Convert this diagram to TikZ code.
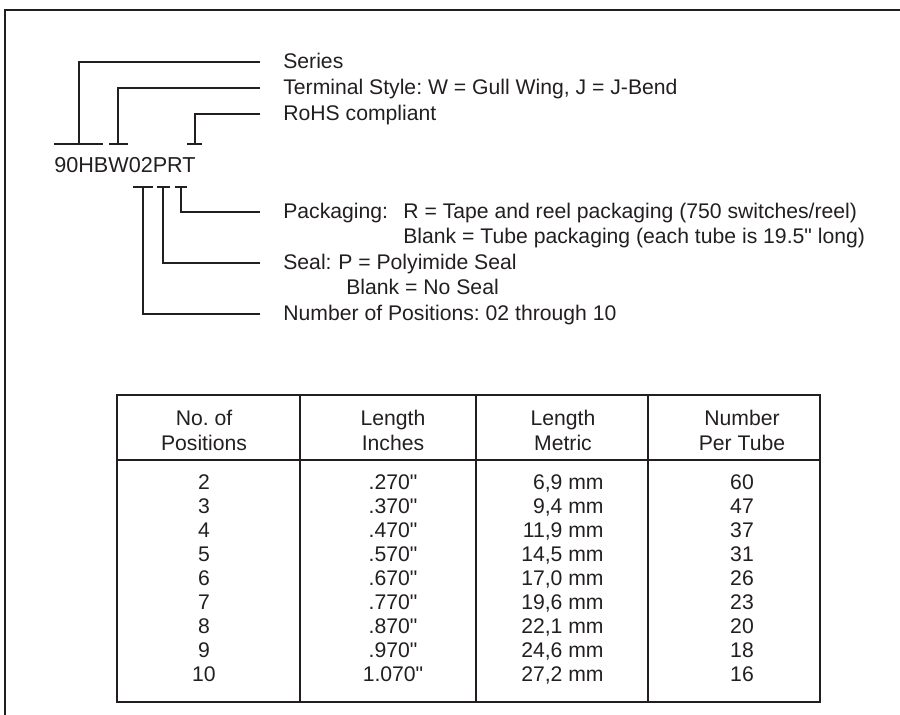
\documentclass[tikz,border=0pt]{standalone}
\usepackage{fontspec}
\setmainfont{Liberation Sans}
\newfontfamily\plainsans{Liberation Sans}
\usetikzlibrary{positioning,calc}
\definecolor{ink}{HTML}{231F20}
\frenchspacing
\newcommand{\inchmark}{{\plainsans\symbol{34}}}

\begin{document}
\begin{tikzpicture}[
    x=0.02cm, y=-0.02cm,
    frame/.style={draw=ink, line width=1.3pt},
    leader/.style={draw=ink, line width=0.7pt},
    grid/.style={draw=ink, line width=1.1pt},
    lbl/.style={
        anchor=west, inner sep=0pt, text=ink,
        font=\fontsize{12.05}{14}\selectfont,
        text height=0.72em, text depth=0pt
    },
    cell/.style={
        anchor=base, inner sep=0pt, text=ink,
        font=\fontsize{12.05}{14}\selectfont
    },
    head/.style={
        align=center, inner sep=0pt, text=ink,
        font=\fontsize{12.05}{14.2}\selectfont
    }
]
\useasboundingbox (0,0) rectangle (900,715);

% === Frame ===
\draw[frame] (5,715) -- (5,10) -- (900,10);

% === Part number ===
\node[anchor=base west, inner sep=0pt, text=ink,
      font=\fontsize{12.3}{14}\selectfont] (pn) at (54,173) {90HBW02PRT};

% tick points above and below the part number
\coordinate (tSer)  at (79,144);
\coordinate (tTerm) at (118,144);
\coordinate (tRohs) at (195,144);
\coordinate (tPos)  at (143,187);
\coordinate (tSeal) at (163,187);
\coordinate (tPack) at (181,187);

\draw[leader] ($(tSer)+(-25,0)$)  -- ($(tSer)+(24,0)$);
\draw[leader] ($(tTerm)+(-9,0)$)  -- ($(tTerm)+(10,0)$);
\draw[leader] ($(tRohs)+(-8,0)$)  -- ($(tRohs)+(7,0)$);
\draw[leader] ($(tPos)+(-10,0)$)  -- ($(tPos)+(10,0)$);
\draw[leader] ($(tSeal)+(-6,0)$)  -- ($(tSeal)+(7,0)$);
\draw[leader] ($(tPack)+(-6,0)$)  -- ($(tPack)+(6,0)$);

% === Upper labels ===
\node[lbl] (series) at (283,62)  {Series};
\node[lbl] (term)   at (283,88)  {Terminal Style: W = Gull Wing, J = J-Bend};
\node[lbl] (rohs)   at (283,114) {RoHS compliant};

\draw[leader] (tSer)  |- ([xshift=-13pt]series.west);
\draw[leader] (tTerm) |- ([xshift=-13pt]term.west);
\draw[leader] (tRohs) |- ([xshift=-13pt]rohs.west);

% === Lower labels ===
\node[lbl] (pack)  at (283,212) {Packaging:};
\node[lbl] (packR) at (403,212) {R = Tape and reel packaging (750 switches/reel)};
\node[lbl] (packB) at (403,237) {Blank = Tube packaging (each tube is 19.5\inchmark{} long)};
\node[lbl] (seal)  at (283,263) {Seal:};
\node[lbl] (sealP) at (338,263) {P = Polyimide Seal};
\node[lbl] (sealB) at (346,288) {Blank = No Seal};
\node[lbl] (npos)  at (283,314) {Number of Positions: 02 through 10};

\draw[leader] (tPack) |- ([xshift=-13pt]pack.west);
\draw[leader] (tSeal) |- ([xshift=-13pt]seal.west);
\draw[leader] (tPos)  |- ([xshift=-13pt]npos.west);

% === Table ===
\draw[grid] (117,395) rectangle (820,702);
\draw[grid] (117,460) -- (820,460);
\foreach \x in {300,476,648}
    \draw[grid] (\x,395) -- (\x,702);

\node[head] (hPos)  at (204,430) {No. of\\Positions};
\node[head] (hIn)   at (393,430) {Length\\Inches};
\node[head] (hMm)   at (563,430) {Length\\Metric};
\node[head] (hTube) at (742,430) {Number\\Per Tube};

\foreach \n/\inch/\mm/\tube [count=\i from 0] in {
    2/.270/{6,9 mm}/60, 3/.370/{9,4 mm}/47, 4/.470/{11,9 mm}/37,
    5/.570/{14,5 mm}/31, 6/.670/{17,0 mm}/26, 7/.770/{19,6 mm}/23,
    8/.870/{22,1 mm}/20, 9/.970/{24,6 mm}/18, 10/1.070/{27,2 mm}/16}{
    \node[cell] (pos\i) at (204,{490+24*\i}) {\n};
    \node[cell] (in\i)  at (393,{490+24*\i}) {\inch\inchmark};
    \node[cell, anchor=base east] (mm\i) at (604,{490+24*\i}) {\mm};
    \node[cell] (tube\i) at (742,{490+24*\i}) {\tube};
}

\end{tikzpicture}
\end{document}
